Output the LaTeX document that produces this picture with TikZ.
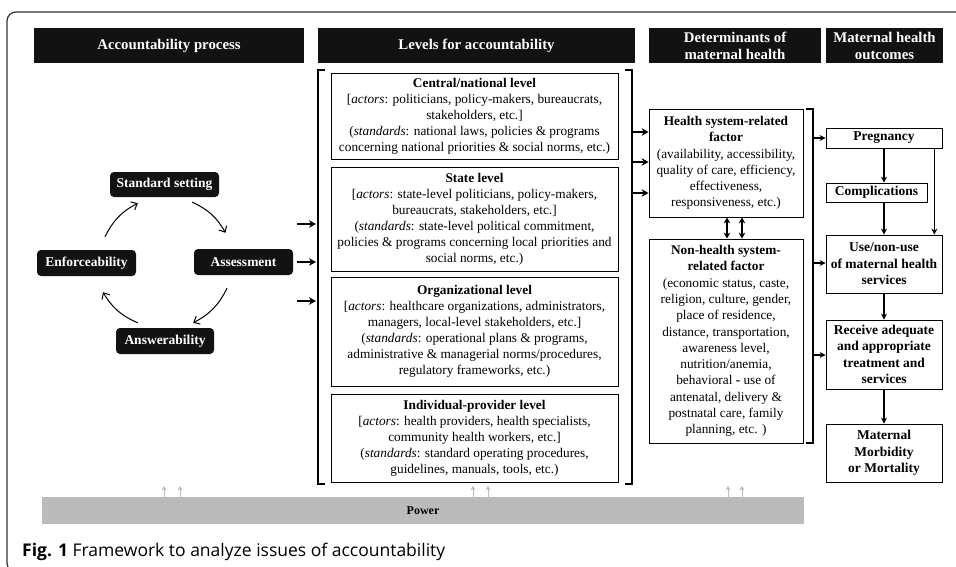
\documentclass[tikz,border=0pt]{standalone}
\usepackage{fontspec}
\setmainfont{Liberation Serif}
\newfontfamily\capfont{Open Sans}
\usetikzlibrary{arrows.meta,positioning}
\definecolor{hdrblack}{HTML}{121212}
\definecolor{powgray}{HTML}{BBBBBB}
\definecolor{framegray}{HTML}{333333}

\tikzset{
  hdr/.style={fill=hdrblack,text=white,align=center,inner sep=0pt,
    font=\fontsize{14.8}{17}\selectfont\bfseries},
  cyc/.style={fill=hdrblack,text=white,rounded corners=4pt,inner sep=0pt,
    font=\fontsize{13.5}{16}\selectfont\bfseries},
  lvl/.style={draw,line width=0.8pt,align=center,inner sep=0pt,minimum width=287pt,
    font=\fontsize{13.3}{16}\selectfont},
  fac/.style={draw,line width=0.8pt,align=center,inner sep=0pt,minimum width=154pt,
    font=\fontsize{13.3}{16.3}\selectfont},
  outc/.style={draw,line width=0.8pt,align=center,inner sep=0pt,
    font=\fontsize{13.5}{16.5}\selectfont\bfseries},
  thk/.style={line width=1.8pt,-{Stealth[length=7pt,width=7.5pt]}},
  flow/.style={line width=1.4pt,-{Stealth[length=6pt,width=6pt]}},
  cycarr/.style={line width=1pt,-{Straight Barb[length=5pt,width=9pt]}},
  pwarr/.style={powgray,line width=1pt,-{Stealth[length=4.5pt,width=5pt]}}
}

\begin{document}
\begin{tikzpicture}[x=1pt,y=-1pt,>=Stealth]
 \useasboundingbox (0,0) rectangle (956,566);
 \clip (0,0) rectangle (956,566);
 % outer frame, running past the right and bottom edges
 \draw[framegray,line width=1.2pt,rounded corners=9pt] (7,12) rectangle (990,572);

 % column headers
 \node[hdr,minimum width=270pt,minimum height=35pt] (h1) at (169,45.5) {Accountability process};
 \node[hdr,minimum width=317pt,minimum height=35pt] (h2) at (476.5,45.5) {Levels for accountability};
 \node[hdr,minimum width=172pt,minimum height=35pt] (h3) at (735,45.5) {Determinants of\\maternal health};
 \node[hdr,minimum width=117pt,minimum height=35pt] (h4) at (884.5,45.5) {Maternal health\\outcomes};

 % accountability cycle
 \node[cyc,minimum width=109pt,minimum height=25pt] (ss) at (164.5,184.5) {Standard setting};
 \node[cyc,minimum width=99pt,minimum height=26pt] (as) at (243.5,262) {Assessment};
 \node[cyc,minimum width=99pt,minimum height=26pt] (en) at (86.5,263) {Enforceability};
 \node[cyc,minimum width=98pt,minimum height=26pt] (an) at (165,341) {Answerability};
 \draw[cycarr] ([xshift=-27pt,yshift=-5pt]ss.south east) to[bend left=18] ([xshift=-18pt,yshift=16pt]as.north);
 \draw[cycarr] ([xshift=-16.5pt,yshift=-13pt]as.south) to[bend left=18] ([xshift=-21pt,yshift=5pt]an.north east);
 \draw[cycarr] ([xshift=22pt,yshift=5pt]an.north west) to[bend left=18] ([xshift=16.5pt,yshift=-16pt]en.south);
 \draw[cycarr] ([xshift=18.5pt,yshift=13pt]en.north) to[bend left=18] ([xshift=28pt,yshift=-6pt]ss.south west);

 % levels for accountability
 \node[lvl,minimum height=86pt] (cn) at (474.5,116) {\textbf{Central/national level}\\
  {[}\textit{actors}: politicians, policy-makers, bureaucrats,\\
  stakeholders, etc.{]}\\
  (\textit{standards}: national laws, policies \& programs\\
  concerning national priorities \& social norms, etc.)};
 \node[lvl,minimum height=104pt] (st) at (474.5,219) {\textbf{State level}\\
  {[}\textit{actors}: state-level politicians, policy-makers,\\
  bureaucrats, stakeholders, etc.{]}\\
  (\textit{standards}: state-level political commitment,\\
  policies \& programs concerning local priorities and\\
  social norms, etc.)};
 \node[lvl,minimum height=109pt] (og) at (474.5,331.5) {\textbf{Organizational level}\\
  {[}\textit{actors}: healthcare organizations, administrators,\\
  managers, local-level stakeholders, etc.{]}\\
  (\textit{standards}: operational plans \& programs,\\
  administrative \& managerial norms/procedures,\\
  regulatory frameworks, etc.)};
 \node[lvl,minimum height=88pt] (ip) at (474.5,438) {\textbf{Individual-provider level}\\
  {[}\textit{actors}: health providers, health specialists,\\
  community health workers, etc.{]}\\
  (\textit{standards}: standard operating procedures,\\
  guidelines, manuals, tools, etc.)};
 \draw[line width=1.6pt] (325,70) -- (318,70) -- (318,484) -- (325,484);
 \draw[line width=1.6pt] (625,70) -- (632,70) -- (632,484) -- (625,484);
 \coordinate (brL) at (316,0);
 \coordinate (brR) at (632,0);
 \foreach \y [count=\i] in {224,262,301}{
  \coordinate (c\i) at (297,\y);
  \draw[thk] (c\i) -- (c\i -| brL);
 }

 % determinants
 \node[fac,minimum height=108pt] (hs) at (726,163) {\textbf{Health system-related}\\
  \textbf{factor}\\
  (availability, accessibility,\\
  quality of care, efficiency,\\
  effectiveness,\\
  responsiveness, etc.)};
 \node[fac,minimum height=204pt] (nh) at (726,341) {\textbf{Non-health system-}\\
  \textbf{related factor}\\
  (economic status, caste,\\
  religion, culture, gender,\\
  place of residence,\\
  distance, transportation,\\
  awareness level,\\
  nutrition/anemia,\\
  behavioral \textbf{-} use of\\
  antenatal, delivery \&\\
  postnatal care, family\\
  planning, etc. )};
 \foreach \y [count=\i] in {132,162,193}{
  \coordinate (b\i) at (632,\y);
  \draw[thk,line width=1.5pt] (b\i) -- (b\i -| hs.west);
 }
 \draw[line width=1.5pt,{Stealth[length=6pt,width=6.5pt]}-{Stealth[length=6pt,width=6.5pt]}]
  ([xshift=1pt]hs.south) -- ([xshift=1pt]nh.north);
 \draw[line width=1.5pt,{Stealth[length=6pt,width=6.5pt]}-{Stealth[length=6pt,width=6.5pt]}]
  ([xshift=16pt]hs.south) -- ([xshift=16pt]nh.north);
 \draw[line width=1.2pt] (806,109) -- (813,109) -- (813,443) -- (806,443);

 % outcomes
 \node[outc,minimum width=116pt,minimum height=20pt] (pg) at (884,138) {Pregnancy};
 \node[outc,minimum width=101pt,minimum height=19pt] (cm) at (876.5,192.5) {Complications};
 \node[outc,minimum width=116pt,minimum height=58pt] (us) at (884,264) {Use/non-use\\of maternal health\\services};
 \node[outc,minimum width=116pt,minimum height=69pt] (rc) at (884,354.5) {Receive adequate\\and appropriate\\treatment and\\services};
 \node[outc,minimum width=116pt,minimum height=58pt] (mm) at (884,453) {Maternal\\Morbidity\\or Mortality};
 \foreach \y [count=\i] in {138,263,355}{
  \coordinate (d\i) at (813,\y);
  \draw[flow] (d\i) -- (d\i -| pg.west);
 }
 \draw[flow] (pg.south) -- (pg.south |- cm.north);
 \draw[flow] (pg.south |- cm.south) -- (us.north);
 \draw[flow] ([xshift=-8pt]pg.south east) -- ([xshift=-8pt]us.north east);
 \draw[flow] (us.south) -- (rc.north);
 \draw[flow] (rc.south) -- (mm.north);

 % power
 \node[fill=powgray,minimum width=762pt,minimum height=27pt,inner sep=0pt,
  font=\fontsize{12}{14}\selectfont\bfseries] (pw) at (423,510.5) {Power};
 \foreach \x [count=\i] in {164,180,473,488,728,742}{
  \coordinate (p\i) at (\x,486);
  \draw[pwarr] (p\i |- pw.north) -- (p\i);
 }

 \node[anchor=base west,inner sep=0pt,font=\capfont\fontsize{17.5}{20}\selectfont] (cap) at (22,556)
  {\textbf{Fig. 1} Framework to analyze issues of accountability};
\end{tikzpicture}
\end{document}
